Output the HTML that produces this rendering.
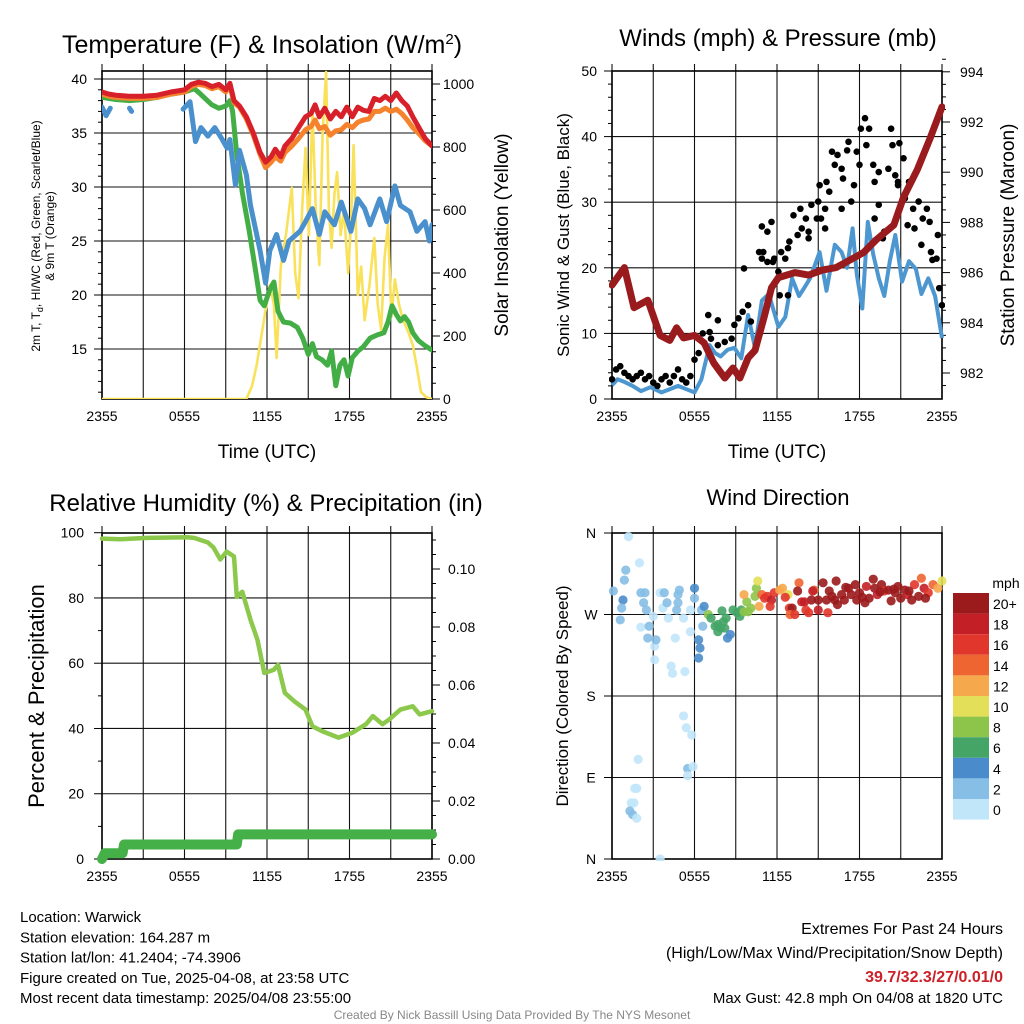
<!DOCTYPE html>
<html><head><meta charset="utf-8"><title>Mesonet Station Chart</title>
<style>
html,body{margin:0;padding:0;background:#fff;}
svg{display:block;font-family:"Liberation Sans",Arial,sans-serif;}
</style></head>
<body>
<svg id="chart" width="1024" height="1024" viewBox="0 0 1024 1024" xmlns="http://www.w3.org/2000/svg">
<rect x="0" y="0" width="1024" height="1024" fill="#fff"/>
</svg>
<script>
// ---------- DATA ----------
const xTickLabels = ["2355","0555","1155","1755","2355"];
const xTickHours = [0,6,12,18,24];

const tempHr = [0,0.5,1,2,3,4,5,6,6.5,7,7.5,8,8.5,9,9.3,9.6,10,10.5,11,11.5,11.9,12.3,12.6,13,13.3,13.8,14.3,14.8,15.2,15.5,15.8,16.2,16.6,17,17.4,17.8,18.2,18.6,19,19.4,19.8,20.2,20.6,21,21.4,21.8,22.2,22.6,23,23.5,24];
const tempRed = [38.8,38.6,38.5,38.4,38.4,38.5,38.8,39.0,39.5,39.7,39.6,39.3,39.5,39.0,39.6,38.0,37.5,36.5,35.0,33.2,32.3,32.8,33.5,32.8,33.8,34.5,35.5,36.5,36.8,37.6,36.5,37.3,36.3,37.0,36.5,37.4,36.5,37.4,37.1,37.0,38.2,38.0,38.4,38.0,38.7,38.0,37.5,36.5,35.6,34.5,33.8];
const tempOrange = [38.6,38.4,38.3,38.2,38.2,38.3,38.6,38.8,39.3,39.5,39.4,39.1,39.3,38.8,39.4,37.8,37.4,36.3,34.8,33.0,31.8,32.3,32.8,32.4,33.2,33.8,34.5,35.3,35.6,36.2,35.4,35.6,34.8,35.2,35.3,35.8,35.5,36.0,36.2,36.3,37.0,37.0,37.3,37.0,37.2,36.8,36.2,35.5,35.0,34.3,33.8];
const dewHr = [0,1,2,3,4,5,6,6.7,7,7.5,8,8.5,9,9.3,9.5,9.8,10.2,10.7,11.2,11.5,11.8,12.2,12.5,12.8,13.2,13.7,14.2,14.6,15,15.3,15.6,16,16.4,16.7,17,17.3,17.6,17.9,18.2,18.6,19,19.5,20,20.5,20.8,21.1,21.4,21.7,22,22.3,22.6,23,23.5,24];
const dewVal = [38.3,38.1,38.0,38.1,38.3,38.6,38.8,39.1,38.8,38.2,37.6,37.3,37.5,38.0,37.0,33.0,29.5,26.0,22.0,19.5,19.0,20.5,21.2,18.5,17.5,17.4,17.0,16.0,14.5,15.5,14.3,14.0,13.5,14.8,11.6,13.5,14.0,12.5,14.2,14.8,15.2,16.0,16.3,16.5,17.5,19.0,18.2,17.6,18.0,17.5,16.5,15.8,15.3,14.9];
const hiwcHr = [0,0.3,0.6,null,2.0,2.15,null,5.9,6.4,6.8,7.2,7.7,8.2,8.7,9.1,9.3,9.7,10,10.5,10.8,11.2,11.5,11.9,12.2,12.7,13.2,13.6,14.4,14.8,15.3,15.8,16.2,16.9,17.4,18.1,18.6,19.1,19.5,20.2,20.7,21.3,21.7,22.4,22.9,23.5,23.8,24];
const hiwcVal = [37.4,36.6,37.3,null,37.3,37.0,null,37.2,37.9,34.2,35.5,34.7,35.5,34.5,33.6,34.4,30.2,33.4,31.1,28.3,25.9,24.1,21.1,24.1,25.6,23.2,25.0,25.9,26.8,28.0,25.6,27.7,26.5,28.6,25.9,28.9,28.0,26.5,28.9,26.8,30.1,28.3,27.7,25.9,26.8,25.0,26.5];
const solarHr = [0,10.5,10.9,11.25,11.7,12.2,12.5,12.7,13.0,13.4,13.8,14.05,14.3,14.55,14.8,15.05,15.3,15.55,15.8,16.05,16.3,16.5,16.7,16.9,17.1,17.35,17.6,17.9,18.1,18.3,18.6,18.85,19.1,19.45,19.8,20.05,20.3,20.55,20.8,21.05,21.3,21.6,21.9,22.3,22.6,22.9,23.2,23.6,24];
const solarVal = [0,0,40,108,230,362,300,130,420,530,670,400,320,600,797,520,924,600,425,850,1038,600,480,650,720,520,600,400,550,806,330,420,250,360,511,300,220,450,552,260,380,300,250,210,171,100,22,5,0];

const windHr = [0,0.4,0.9,1.5,2.1,2.8,3.6,4.2,4.8,5.4,6,6.5,7.1,7.5,7.9,8.4,8.9,9.4,9.9,10.4,10.9,11.4,12.1,12.6,13.1,13.6,14.0,14.4,15.1,15.6,16.2,16.7,17.1,17.5,17.8,18.2,18.6,19.0,19.4,19.8,20.2,20.6,21.1,21.6,22.1,22.5,23.0,23.5,24];
const windVal = [2.1,3.0,2.6,2.0,1.2,1.8,1.0,1.5,2.0,1.5,1.0,3.0,8.2,7.0,6.5,7.5,7.8,6.2,12.8,7.8,15.0,16.0,11.0,12.5,18.4,15.7,17.0,18.4,22.4,16.5,23.5,22.4,20.0,26.0,19.0,13.8,27.0,22.0,18.4,15.7,21.0,25.0,17.9,21.0,19.8,16.0,18.4,15.7,9.3];
const gustHr = [0,0.3,0.6,0.9,1.2,1.5,1.8,2.1,2.4,2.7,3.0,3.3,3.6,3.9,4.2,4.5,4.8,5.1,5.4,5.7,6.0,6.3,6.6,7.0,7.7,7.1,7.2,7.7,8.2,8.7,8.9,9.2,9.5,9.9,9.6,10.1,10.7,10.9,11.3,11.6,11.7,11.3,12.1,12.2,12.6,12.8,12.9,13.2,13.5,13.7,13.8,14.1,14.3,14.5,14.9,15.0,15.1,15.2,15.5,15.6,15.8,16.0,16.2,16.4,16.7,16.8,17.1,17.2,17.4,17.6,17.8,18.0,18.1,18.4,18.5,18.7,19.0,19.1,19.4,19.1,19.8,20.1,20.3,20.4,20.6,20.8,20.9,21.2,21.3,21.5,21.6,21.9,22.0,22.3,22.5,22.6,22.9,23.1,23.2,23.3,23.7,23.8,24.0,23.6,20.8,19.7,19.4,16.7,15.5,14.3,12.8,12.3,11.8,10.9,11.0];
const gustVal = [3.0,4.5,5.0,4.0,3.5,3.0,3.5,4.0,3.0,3.5,2.5,2.0,3.0,3.5,2.5,3.5,4.5,3.0,2.5,3.5,6.0,7.0,10.0,12.8,12.0,10.2,9.2,8.2,8.7,9.2,11.3,12.3,13.3,14.3,19.9,11.8,22.4,26.3,25.5,27.0,20.9,20.9,19.4,15.8,21.4,15.8,24.0,28.0,25.0,29.0,26.0,27.5,25.5,29.6,27.5,30.1,32.6,27.5,26.0,33.1,31.6,37.7,35.7,37.2,35.1,33.6,37.9,39.2,30.1,32.6,37.7,35.7,41.2,42.8,38.7,41.2,35.7,33.1,34.6,27.5,25.5,35.1,41.2,38.7,34.1,33.1,39.0,36.7,30.6,26.5,33.1,29.0,26.0,30.1,23.5,27.5,29.0,27.0,22.4,21.2,25.0,16.9,14.3,21.4,32.6,24.5,29.6,29.0,29.0,24.5,23.0,22.4,21.4,21.4,22.4];
const presHr = [0,0.9,1.6,2.6,3.5,4.2,4.7,5.2,6.0,6.7,7.4,8.2,8.8,9.3,9.9,10.4,11.1,11.6,12.1,13.3,14.3,15.3,16.3,17.3,18.3,19.2,20.5,21.2,22.2,23.1,24];
const presVal = [985.5,986.2,984.6,984.9,983.5,983.3,983.8,983.4,983.5,983.2,982.4,981.8,982.2,981.8,982.6,982.9,984.3,985.4,985.8,986.0,985.9,986.1,986.2,986.5,986.8,987.3,987.9,989.0,990.1,991.3,992.6];

const rhHr = [0,1.3,3.3,6.2,6.7,7.7,8.1,8.6,9.07,9.6,9.8,10.2,10.8,11.3,11.8,12.5,12.8,13.3,14.0,14.8,15.3,16.0,17.2,18.2,19.2,19.7,20.4,20.9,21.7,22.6,23.1,24];
const rhVal = [98.2,98.0,98.4,98.6,98.4,97.0,95.5,91.8,94.2,92.7,80.3,81.9,73.3,67.2,57.0,58.0,59.5,50.9,48.3,45.8,40.7,39.2,37.2,38.7,41.3,43.8,41.3,42.8,45.8,46.8,44.3,45.3];
const precHr = [0,0.2,1.5,1.6,9.8,9.9,24];
const precVal = [0,0.002,0.002,0.005,0.005,0.0085,0.0085];

const dirHr = [1.2,2.0,1.0,0.9,0.1,0.8,0.7,0.6,2.1,2.4,2.3,2.5,3.0,2.1,2.7,2.6,3.1,3.2,3.1,3.5,3.8,3.7,4.1,4.0,4.6,4.3,4.4,4.8,4.9,4.8,4.7,5.3,5.2,5.7,6.0,6.0,6.3,6.4,6.3,5.7,6.5,6.7,6.6,5.2,5.4,5.8,5.5,5.9,5.5,1.9,1.65,1.8,1.4,1.6,1.3,1.5,1.8,3.5,
7.0,7.2,7.5,7.7,7.9,8.1,8.3,8.0,8.2,7.7,8.6,8.4,8.8,9.1,9.4,9.3,9.6,9.9,10.1,9.8,10.4,10.5,10.6,
9.6,10.9,11.1,11.3,11.6,11.8,10.7,11.5,12.2,12.4,12.8,12.9,13.1,12.95,13.3,13.6,13.5,13.8,14.1,14.3,14.5,14.7,14.6,15.0,15.0,15.35,15.6,15.7,15.8,16.2,16.3,16.4,16.7,16.9,17.2,17.4,17.7,17.8,18.0,18.4,18.5,18.7,19.0,19.1,19.3,19.6,19.8,20.1,20.3,20.6,20.8,21.0,21.3,21.5,21.8,22.0,22.3,22.5,22.7,23.0,23.35,23.7,24.0,16.0,17.0,18.2,19.5,20.5,21.6,22.8,14.0,12.6];
const dirDeg = [356,327,319,308,296,286,277,264,294,294,283,275,268,256,257,244,235,242,220,294,294,277,266,283,244,213,205,292,297,283,275,207,266,275,299,288,242,233,222,251,275,279,257,158,145,137,100,102,92,110,78,78,62,62,53,49,45,0,
270,266,257,259,255,262,266,274,255,251,248,244,275,272,275,268,273,273,277,284,290,299,307,
292,292,288,290,286,294,279,279,297,299,292,277,277,270,270,305,296,284,275,272,286,297,296,286,275,305,286,272,296,286,307,281,292,286,299,292,303,286,294,283,301,288,309,299,292,303,296,297,285,294,301,288,297,292,286,303,290,310,299,294,303,299,307,290,300,289,295,298,296,288,284,289];
const dirSpd = [1,1,2,2,2,4,2,2,2,2,2,2,1,1,2,2,1,2,1,1,2,1,1,2,1,1,1,2,2,2,2,1,1,1,4,2,4,4,4,1,3,4,3,1,1,1,3,1,1,1,1,1,1,1,3,2,1,1,
8,7,6,6,6,6,6,6,6,6,4,4,6,6,6,6,8,8,8,8,8,9,10,
12,14,16,16,18,16,12,16,12,12,10,16,20,14,16,14,20,18,16,16,20,14,18,20,18,20,20,16,20,20,20,20,20,20,20,20,20,20,20,20,18,20,20,20,18,20,16,20,20,20,20,20,20,18,20,16,20,14,18,16,14,12,10,20,20,20,20,20,20,20,18,16];

const cbLabels = ["20+","18","16","14","12","10","8","6","4","2","0"];
const cbColors = ["#9b1a1c","#c21f26","#e1362b","#ee6531","#f6a84c","#e4df58","#8dc44a","#44a567","#4a8ccb","#86bee6","#c1e6f9"];

// ---------- HELPERS ----------
const NS = "http://www.w3.org/2000/svg";
const svg = document.getElementById('chart');
function mk(tag, attrs, parent){
  const e = document.createElementNS(NS, tag);
  for (const k in attrs) e.setAttribute(k, attrs[k]);
  (parent||svg).appendChild(e);
  return e;
}
function txt(s, x, y, size, anchor, parent, extra){
  const t = mk('text', Object.assign({x:x, y:y, 'font-size':size, 'text-anchor':anchor||'middle', fill:'#000'}, extra||{}), parent);
  t.textContent = s;
  return t;
}
function pathFrom(xs, ys, fx, fy){
  let d = '', pen = false;
  for (let i=0;i<xs.length;i++){
    if (xs[i]===null || ys[i]===null){ pen=false; continue; }
    d += (pen?'L':'M') + fx(xs[i]).toFixed(1) + ',' + fy(ys[i]).toFixed(1);
    pen = true;
  }
  return d;
}
function grid(g, x0, x1, y0, y1, hLines){
  for (let k=0;k<=8;k++){
    const x = x0 + (x1-x0)*k/8;
    const l = mk('line',{x1:x,x2:x,y1:y0-7,y2:y1,stroke:'#111','stroke-width':1.1},g);
    
    
  }
  hLines.forEach(y=>{
    const l = mk('line',{x1:x0,x2:x1,y1:y,y2:y,stroke:'#111','stroke-width':1.1},g);
    
    
  });
  const r = mk('rect',{x:x0,y:y0,width:x1-x0,height:y1-y0,fill:'none',stroke:'#000','stroke-width':1.6},g);
  
  
}
function xAxis(g, x0, y1, withTitle){
  xTickHours.forEach((h,i)=>{
    const t = txt(xTickLabels[i], x0+h*13.75, y1+22, 14, 'middle', g);
    
    
  });
  if (withTitle){
    const t = txt('Time (UTC)', x0+165, y1+59, 19, 'middle', g);
    
    
  }
}
function tick(g, x, y, len){
  mk('line',{x1:x,x2:x+len,y1:y,y2:y,stroke:'#000','stroke-width':1},g);
}

// ---------- PANEL 1: Temperature ----------
(function(){
  const g = mk('g',{});
  
  
  const X0=102, X1=432, Y0=71, Y1=399;
  const xs = h => X0 + h*13.75;
  const yT = v => 79 + (40-v)*10.8;
  const yS = w => 399 - w*0.315;
  grid(g, X0, X1, Y0, Y1, [15,20,25,30,35,40].map(yT));
  for (let v=11; v<=40; v++) tick(g, X0, yT(v), v%5===0?-8:-4);
  for (let w=0; w<=1000; w+=50) tick(g, X1, yS(w), w%200===0?8:4);
  [40,35,30,25,20,15].forEach(v=>{ const t=txt(String(v),87,yT(v)+5,14,'end',g);   });
  [0,200,400,600,800,1000].forEach(w=>{ const t=txt(String(w),443,yS(w)+5,14,'start',g);   });
  xAxis(g, X0, Y1, true);
  const cp = mk('clipPath',{id:'cp1'},g); mk('rect',{x:X0,y:Y0-4,width:X1-X0,height:Y1-Y0+4},cp);
  const lines = mk('g',{'clip-path':'url(#cp1)'},g);
  const sol = mk('path',{d:pathFrom(solarHr,solarVal,xs,yS),fill:'none',stroke:'#f9e15a','stroke-width':2.6,'stroke-linejoin':'round'},lines);
  
  
  const dew = mk('path',{d:pathFrom(dewHr,dewVal,xs,yT),fill:'none',stroke:'#43ae46','stroke-width':5,'stroke-linejoin':'round','stroke-linecap':'round'},lines);
  
  
  const hi = mk('path',{d:pathFrom(hiwcHr,hiwcVal,xs,yT),fill:'none',stroke:'#4a90cc','stroke-width':5,'stroke-linejoin':'round','stroke-linecap':'round'},lines);
  
  
  const or = mk('path',{d:pathFrom(tempHr,tempOrange,xs,yT),fill:'none',stroke:'#f5832d','stroke-width':5,'stroke-linejoin':'round'},lines);
  
  
  const rd = mk('path',{d:pathFrom(tempHr,tempRed,xs,yT),fill:'none',stroke:'#d7202a','stroke-width':5,'stroke-linejoin':'round','stroke-linecap':'round'},lines);
  
  
  const t1 = txt('Temperature (F) & Insolation (W/m', 262, 53, 25, 'middle', g);
  const sup = mk('tspan',{dy:-9,'font-size':15},t1); sup.textContent='2';
  const cl = mk('tspan',{dy:9},t1); cl.textContent=')';
  
  
  const yl = mk('text',{transform:'translate(40,236) rotate(-90)','font-size':12,'text-anchor':'middle'},g);
  yl.innerHTML = '2m T, T<tspan font-size="9" dy="3">d</tspan><tspan dy="-3">, HI/WC (Red, Green, Scarlet/Blue)</tspan>';
  
  
  const yl2 = txt('& 9m T (Orange)', 0, 0, 12, 'middle', g, {transform:'translate(54,236) rotate(-90)'});
  
  
  const yr = txt('Solar Insolation (Yellow)', 0, 0, 19, 'middle', g, {transform:'translate(508,235) rotate(-90)'});
  
  
})();

// ---------- PANEL 2: Winds ----------
(function(){
  const g = mk('g',{});
  
  
  const X0=612, X1=942, Y0=71, Y1=399;
  const xs = h => X0 + h*13.75;
  const yW = v => 399 - v*6.56;
  const yP = p => 373 - (p-982)*25.1;
  grid(g, X0, X1, Y0, Y1, [10,20,30,40].map(yW));
  for (let v=0; v<=50; v+=2) tick(g, X0, yW(v), v%10===0?-8:-4);
  for (let p=981.5; p<=994.5; p+=0.5) tick(g, X1, yP(p), (p%2===0)?8:4);
  [0,10,20,30,40,50].forEach(v=>{ const t=txt(String(v),597,yW(v)+5,14,'end',g);   });
  [982,984,986,988,990,992,994].forEach(p=>{ const t=txt(String(p),960,yP(p)+5,14,'start',g);   });
  xAxis(g, X0, Y1, true);
  const cp = mk('clipPath',{id:'cp2'},g); mk('rect',{x:X0-3,y:Y0,width:X1-X0+6,height:Y1-Y0+3},cp);
  const lines = mk('g',{'clip-path':'url(#cp2)'},g);
  const w = mk('path',{d:pathFrom(windHr,windVal,xs,yW),fill:'none',stroke:'#4d97d1','stroke-width':4,'stroke-linejoin':'round'},lines);
  
  
  for (let i=0;i<gustHr.length;i++){
    const c = mk('circle',{cx:xs(gustHr[i]),cy:yW(gustVal[i]),r:3.3,fill:'#000'},lines);
    
    
  }
  const p = mk('path',{d:pathFrom(presHr,presVal,xs,yP),fill:'none',stroke:'#9a1b1e','stroke-width':7,'stroke-linejoin':'round','stroke-linecap':'round'},lines);
  
  
  const t = txt('Winds (mph) & Pressure (mb)', 778, 46, 24, 'middle', g);
  
  
  const yl = txt('Sonic Wind & Gust (Blue, Black)', 0, 0, 17, 'middle', g, {transform:'translate(569,235) rotate(-90)'});
  
  
  const yr = txt('Station Pressure (Maroon)', 0, 0, 19, 'middle', g, {transform:'translate(1014,235) rotate(-90)'});
  
  
})();

// ---------- PANEL 3: RH & Precip ----------
(function(){
  const g = mk('g',{});
  
  
  const X0=102, X1=432, Y0=533, Y1=859;
  const xs = h => X0 + h*13.75;
  const yR = v => 859 - v*3.263;
  const yQ = v => 859 - v*2900;
  grid(g, X0, X1, Y0, Y1, [20,40,60,80].map(yR));
  for (let v=0; v<=100; v+=10) tick(g, X0, yR(v), v%20===0?-8:-4);
  for (let k=0; k<=22; k++){ const v=k*0.005; tick(g, X1, yQ(v), k%4===0?8:4); }
  [0,20,40,60,80,100].forEach(v=>{ const t=txt(String(v),84,yR(v)+5,14,'end',g);   });
  [0,0.02,0.04,0.06,0.08,0.10].forEach(v=>{ const t=txt(v.toFixed(2),448,yQ(v)+5,14,'start',g);   });
  xAxis(g, X0, Y1, false);
  const rh = mk('path',{d:pathFrom(rhHr,rhVal,xs,yR),fill:'none',stroke:'#8cc84b','stroke-width':4.5,'stroke-linejoin':'round','stroke-linecap':'round'},g);
  
  
  const pr = mk('path',{d:pathFrom(precHr,precVal,xs,yQ),fill:'none',stroke:'#46b048','stroke-width':10,'stroke-linejoin':'round','stroke-linecap':'round'},g);
  
  
  const t = txt('Relative Humidity (%) & Precipitation (in)', 266, 511, 24, 'middle', g);
  
  
  const yl = txt('Percent & Precipitation', 0, 0, 22, 'middle', g, {transform:'translate(44,696) rotate(-90)'});
  
  
})();

// ---------- PANEL 4: Wind Direction ----------
(function(){
  const g = mk('g',{});
  
  
  const X0=612, X1=942, Y0=533, Y1=859;
  const xs = h => X0 + h*13.75;
  const yD = d => 859 - d*326/360;
  grid(g, X0, X1, Y0, Y1, [90,180,270].map(yD));
  [0,90,180,270,360].forEach(d=>tick(g, X0, yD(d), -8));
  const dl = ['N','E','S','W','N'];
  [0,90,180,270,360].forEach((d,i)=>{ const t=txt(dl[i],591,yD(d)+5,14,'middle',g);   });
  xAxis(g, X0, Y1, false);
  const cp = mk('clipPath',{id:'cp4'},g); mk('rect',{x:X0-6,y:Y0-6,width:X1-X0+12,height:Y1-Y0+8},cp);
  const pts = mk('g',{'clip-path':'url(#cp4)'},g);
  for (let i=0;i<dirHr.length;i++){
    const bin = Math.min(10, Math.floor(dirSpd[i]/2));
    const c = mk('circle',{cx:xs(dirHr[i]),cy:yD(dirDeg[i]),r:4.6,fill:cbColors[10-bin],'fill-opacity':0.9},pts);
    
    
  }
  const t = txt('Wind Direction', 778, 505, 22, 'middle', g);
  
  
  const yl = txt('Direction (Colored By Speed)', 0, 0, 17, 'middle', g, {transform:'translate(568,696) rotate(-90)'});
  
  
  const cb = mk('g',{},g);
  
  
  const mt = txt('mph', 1006, 588, 14, 'middle', cb);
  
  
  for (let i=0;i<cbColors.length;i++){
    const r = mk('rect',{x:953,y:593+i*20.6,width:36,height:20.6,fill:cbColors[i]},cb);
    
    
    const l = txt(cbLabels[i], 993, 593+i*20.6+16, 14, 'start', cb);
    
    
  }
})();

// ---------- FOOTER TEXT ----------
(function(){
  const g = mk('g',{});
  
  
  const info = ['Location: Warwick','Station elevation: 164.287 m','Station lat/lon: 41.2404; -74.3906','Figure created on Tue, 2025-04-08, at 23:58 UTC','Most recent data timestamp: 2025/04/08 23:55:00'];
  info.forEach((s,i)=>{ const t=txt(s,20,922+i*20.3,15,'start',g);   });
  const e = mk('g',{});
  
  
  let t;
  t = txt('Extremes For Past 24 Hours',1003,934,16,'end',e);  
  t = txt('(High/Low/Max Wind/Precipitation/Snow Depth)',1003,958,16,'end',e);  
  t = txt('39.7/32.3/27/0.01/0',1003,982,16,'end',e,{fill:'#cc2128','font-weight':'bold'});  
  t = txt('Max Gust: 42.8 mph On 04/08 at 1820 UTC',1003,1003,15,'end',e);  
  t = txt('Created By Nick Bassill Using Data Provided By The NYS Mesonet',512,1019,12,'middle',svg,{fill:'#888'});  
})();
</script>
</body></html>
